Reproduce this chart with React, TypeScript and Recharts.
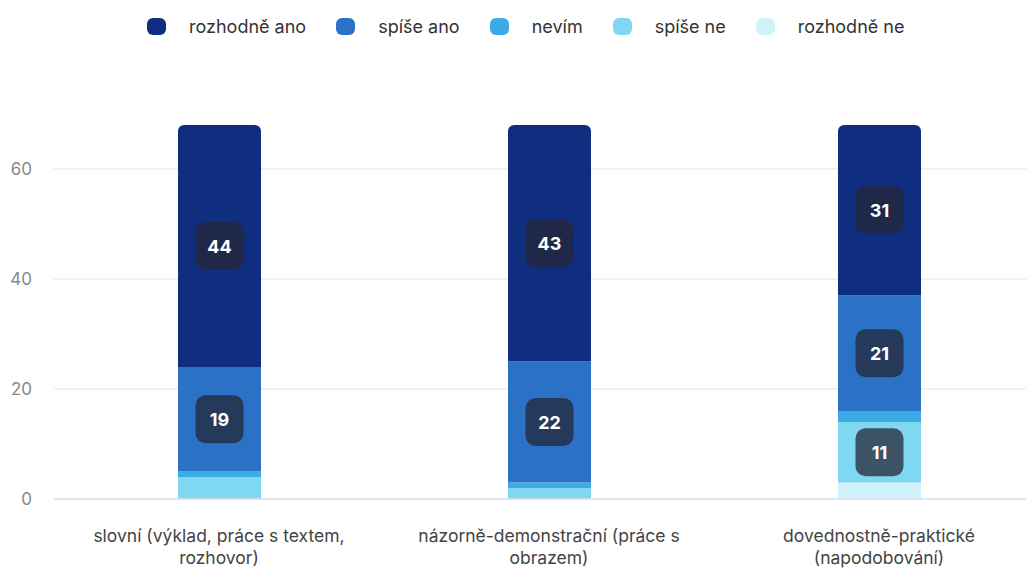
import React from "react";
import {
  BarChart,
  Bar,
  XAxis,
  YAxis,
  CartesianGrid,
  Legend,
  LabelList,
} from "recharts";

const categories = [
  "slovní (výklad, práce s textem, rozhovor)",
  "názorně-demonstrační (práce s obrazem)",
  "dovednostně-praktické (napodobování)",
];

const rozhodneAno = [44, 43, 31];
const spiseAno = [19, 22, 21];
const nevim = [1, 1, 2];
const spiseNe = [4, 2, 11];
const rozhodneNe = [0, 0, 3];

const yTicks = [0, 20, 40, 60];

const series = [
  { key: "rozhodneAno", name: "rozhodně ano", color: "#102e7f" },
  { key: "spiseAno", name: "spíše ano", color: "#2b72c7" },
  { key: "nevim", name: "nevím", color: "#3aabe5" },
  { key: "spiseNe", name: "spíše ne", color: "#80d7f2" },
  { key: "rozhodneNe", name: "rozhodně ne", color: "#cff2fb" },
];

const chartData = categories.map((name, i) => ({
  name,
  rozhodneAno: rozhodneAno[i],
  spiseAno: spiseAno[i],
  nevim: nevim[i],
  spiseNe: spiseNe[i],
  rozhodneNe: rozhodneNe[i],
}));

const FONT = "Inter, 'Noto Sans', sans-serif";
const LABEL_SIZE = 17.5;

// wrap a label into lines no wider than maxW
let ctx: CanvasRenderingContext2D | null = null;
function measure(s: string) {
  if (!ctx) ctx = document.createElement("canvas").getContext("2d");
  if (!ctx) return s.length * LABEL_SIZE * 0.55;
  ctx.font = `${LABEL_SIZE}px Inter`;
  return ctx.measureText(s).width;
}
function wrap(text: string, maxW: number) {
  const words = text.split(" ");
  const lines: string[] = [];
  let cur = "";
  words.forEach((w) => {
    const t = cur ? cur + " " + w : w;
    if (cur && measure(t) > maxW) {
      lines.push(cur);
      cur = w;
    } else cur = t;
  });
  if (cur) lines.push(cur);
  return lines;
}

function LegendContent() {
  return (
    <div
      style={{
        display: "flex",
        justifyContent: "flex-start",
        alignItems: "center",
        paddingTop: 8,
        paddingLeft: 147,
        fontFamily: FONT,
        fontSize: 18,
        color: "#333",
      }}
    >
      {series.map((s, i) => (
        <div
          key={s.key}
          style={{
            display: "flex",
            alignItems: "center",
            marginLeft: i === 0 ? 0 : 30,
          }}
        >
          <span
            style={{
              display: "inline-block",
              width: 19,
              height: 17,
              borderRadius: 6,
              background: s.color,
              marginRight: 23,
            }}
          />
          <span>{s.name}</span>
        </div>
      ))}
    </div>
  );
}

function ValueBadge(props: any) {
  const { x, y, width, height, value } = props;
  if (!value || value < 10) return null;
  const cx = x + width / 2;
  const cy = y + height / 2;
  return (
    <g>
      <rect
        x={cx - 24}
        y={cy - 24}
        width={48}
        height={48}
        rx={10}
        fill="rgb(36,39,53)"
        fillOpacity={0.75}
      />
      <text
        x={cx}
        y={cy}
        textAnchor="middle"
        dominantBaseline="central"
        fill="#fff"
        fontFamily={FONT}
        fontSize={18}
        fontWeight={700}
      >
        {value}
      </text>
    </g>
  );
}

function CategoryTick(props: any) {
  const { x, y, payload } = props;
  const lines = wrap(String(payload.value), 290);
  return (
    <text
      x={x}
      y={y + 35}
      textAnchor="middle"
      fill="#444"
      fontFamily={FONT}
      fontSize={LABEL_SIZE}
    >
      {lines.map((l, i) => (
        <tspan key={i} x={x} dy={i === 0 ? 0 : 22}>
          {l}
        </tspan>
      ))}
    </text>
  );
}

const stackOrder = [...series].reverse();

export default function App() {
  return (
    <div
      style={{
        position: "fixed",
        left: 0,
        top: 0,
        width: 1026,
        height: 568,
        overflow: "hidden",
        background: "#fff",
      }}
    >
      <BarChart
        width={1050}
        height={568}
        data={chartData}
        margin={{ top: 8, right: 6, left: 0, bottom: 0 }}
      >
        <Legend
          verticalAlign="top"
          content={<LegendContent />}
          wrapperStyle={{ left: 0, width: 1026, height: 106, top: 8 }}
        />
        <CartesianGrid
          vertical={false}
          stroke="#ececec"
          strokeWidth={1.5}
          horizontalValues={yTicks}
        />
        <XAxis
          dataKey="name"
          tick={<CategoryTick />}
          tickLine={false}
          axisLine={{ stroke: "#dbe1ec", strokeWidth: 1.5 }}
          height={69}
          interval={0}
        />
        <YAxis
          domain={[0, 70]}
          ticks={yTicks}
          width={54}
          tickLine={false}
          axisLine={false}
          tickMargin={16}
          tick={{ fill: "#888", fontSize: 17, fontFamily: FONT }}
        />
        {stackOrder.map((s) => (
          <Bar
            key={s.key}
            dataKey={s.key}
            name={s.name}
            stackId="a"
            fill={s.color}
            barSize={83}
            radius={s.key === "rozhodneAno" ? [6, 6, 0, 0] : 0}
            isAnimationActive={false}
          >
            <LabelList dataKey={s.key} content={<ValueBadge />} />
          </Bar>
        ))}
      </BarChart>
    </div>
  );
}
